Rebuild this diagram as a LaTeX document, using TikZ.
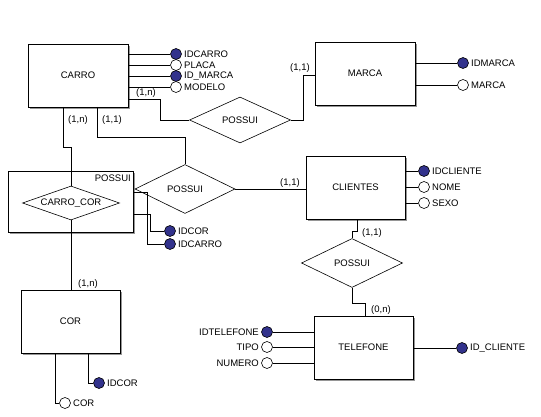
\documentclass[tikz,border=0pt]{standalone}
\usepackage{fontspec}
\setmainfont{Liberation Sans}
\usetikzlibrary{shapes.geometric,shadows}
\definecolor{attrfill}{RGB}{50,50,140}
\definecolor{shadowgray}{RGB}{150,150,150}
\begin{document}
\begin{tikzpicture}[x=1pt,y=-1pt,
  every node/.style={font=\fontsize{9.5}{11}\selectfont},
  line/.style={draw=black,line width=0.8pt},
  entity/.style={rectangle,draw=black,line width=0.8pt,fill=white,inner sep=0pt,
    drop shadow={shadow xshift=2pt,shadow yshift=-2pt,fill=shadowgray,opacity=1}},
  rel/.style={diamond,draw=black,line width=0.6pt,fill=white,inner sep=0pt,aspect=2.1},
  keyattr/.style={circle,draw=black,line width=0.6pt,fill=attrfill,minimum size=11pt,inner sep=0pt},
  attr/.style={circle,draw=black,line width=0.6pt,fill=white,minimum size=11pt,inner sep=0pt},
  atxt/.style={inner sep=0pt,anchor=west},
  ltxt/.style={inner sep=0pt,anchor=east},
  card/.style={inner sep=0pt}
]
\useasboundingbox[fill=white] (0,0) rectangle (541,417);

% ---------- CARRO ----------
\node[entity,minimum width=100pt,minimum height=63pt] (carro) at (78,75.5) {CARRO};
\node[keyattr] (ca1) at (176,54) {};
\node[attr]    (ca2) at (176,65) {};
\node[keyattr] (ca3) at (176,76) {};
\node[attr]    (ca4) at (176,87) {};
\draw[line] (carro.east |- ca1) -- (ca1.west);
\draw[line] (carro.east |- ca2) -- (ca2.west);
\draw[line] (carro.east |- ca3) -- (ca3.west);
\draw[line] (carro.east |- ca4) -- (ca4.west);
\node[atxt] (ca1t) at (184,54) {IDCARRO};
\node[atxt] (ca2t) at (184,65) {PLACA};
\node[atxt] (ca3t) at (184,76) {ID\_MARCA};
\node[atxt] (ca4t) at (184,87) {MODELO};

% ---------- MARCA ----------
\node[entity,minimum width=100pt,minimum height=63pt] (marca) at (365,73.5) {MARCA};
\node[keyattr] (ma1) at (463,63) {};
\node[attr]    (ma2) at (463,85) {};
\draw[line] (marca.east |- ma1) -- (ma1.west);
\draw[line] (marca.east |- ma2) -- (ma2.west);
\node[atxt] (ma1t) at (471,63) {IDMARCA};
\node[atxt] (ma2t) at (471,85) {MARCA};

% ---------- POSSUI (CARRO-MARCA) ----------
\node[rel,minimum width=101pt,minimum height=46pt] (pos1) at (240,120) {POSSUI};
\coordinate (c1a) at (128,99);
\coordinate (c1b) at (160,99);
\coordinate (c1c) at (160,120);
\draw[line] (c1a) -- (c1b) -- (c1c) -- (pos1.west);
\coordinate (m1a) at (303,120);
\coordinate (m1b) at (303,75);
\draw[line] (pos1.east) -- (m1a) -- (m1b) -- (m1b -| marca.west);
\node[card] (k1) at (146,93) {(1,n)};
\node[card] (k2) at (300,68) {(1,1)};

% ---------- Associative box ----------
\node[entity,minimum width=125pt,minimum height=61pt] (assoc) at (70.5,201.5) {};
\node[inner sep=0pt,anchor=east] (assoct) at (131,178) {POSSUI};
\node[rel,aspect=2.85,minimum width=97pt,minimum height=34pt] (cc) at (71,203) {CARRO\_COR};

% CARRO -> CARRO_COR
\coordinate (cc1) at (63,107);
\coordinate (cc2) at (63,147);
\coordinate (cc3) at (71,147);
\draw[line] (cc1) -- (cc2) -- (cc3) -- (cc.north);
\node[card] (k3) at (78,120) {(1,n)};

% ---------- POSSUI (CARRO-CLIENTES) ----------
\node[rel,minimum width=100pt,minimum height=49pt] (pos2) at (185,189) {POSSUI};
\coordinate (p2a) at (97,107);
\coordinate (p2b) at (97,137);
\coordinate (p2c) at (185,137);
\draw[line] (p2a) -- (p2b) -- (p2c) -- (pos2.north);
\node[card] (k4) at (112,120) {(1,1)};

% ---------- CLIENTES ----------
\node[entity,minimum width=99pt,minimum height=63pt] (cli) at (355.5,187.5) {CLIENTES};
\draw[line] (pos2.east) -- (pos2.east -| cli.west);
\node[card] (k5) at (290,183) {(1,1)};
\node[keyattr] (cl1) at (424,171) {};
\node[attr]    (cl2) at (424,187) {};
\node[attr]    (cl3) at (424,203) {};
\draw[line] (cli.east |- cl1) -- (cl1.west);
\draw[line] (cli.east |- cl2) -- (cl2.west);
\draw[line] (cli.east |- cl3) -- (cl3.west);
\node[atxt] (cl1t) at (432,171) {IDCLIENTE};
\node[atxt] (cl2t) at (432,187) {NOME};
\node[atxt] (cl3t) at (432,203) {SEXO};

% associative box attributes
\node[keyattr] (as1) at (170,231) {};
\node[keyattr] (as2) at (170,244) {};
\coordinate (a2a) at (133,192);
\coordinate (a2b) at (147,192);
\coordinate (a2c) at (147,244);
\draw[line] (a2a) -- (a2b) -- (a2c) -- (as2.west);
\coordinate (a1a) at (133,214);
\coordinate (a1b) at (150,214);
\coordinate (a1c) at (150,231);
\draw[line] (a1a) -- (a1b) -- (a1c) -- (as1.west);
\node[atxt] (as1t) at (178,231) {IDCOR};
\node[atxt] (as2t) at (178,244) {IDCARRO};

% ---------- COR ----------
\node[entity,minimum width=99pt,minimum height=63pt] (cor) at (70.5,321.5) {COR};
\draw[line] (cc.south) -- (cc.south |- cor.north);
\node[card] (k6) at (88,284) {(1,n)};
\node[attr]    (co1) at (65,403) {};
\node[keyattr] (co2) at (99,383) {};
\coordinate (o1a) at (55,353);
\coordinate (o1b) at (55,403);
\draw[line] (o1a) -- (o1b) -- (co1.west);
\coordinate (o2a) at (88,353);
\coordinate (o2b) at (88,383);
\draw[line] (o2a) -- (o2b) -- (co2.west);
\node[atxt] (co1t) at (73,403) {COR};
\node[atxt] (co2t) at (107,383) {IDCOR};

% ---------- POSSUI (CLIENTES-TELEFONE) ----------
\node[rel,minimum width=101pt,minimum height=49pt] (pos3) at (352,263) {POSSUI};
\coordinate (p3a) at (357,219);
\coordinate (p3b) at (357,231);
\coordinate (p3c) at (352,231);
\draw[line] (p3a) -- (p3b) -- (p3c) -- (pos3.north);
\node[card] (k7) at (372,233) {(1,1)};

% ---------- TELEFONE ----------
\node[entity,minimum width=99pt,minimum height=63pt] (tel) at (363.5,347.5) {TELEFONE};
\coordinate (t1a) at (352,303);
\coordinate (t1b) at (365,303);
\draw[line] (pos3.south) -- (t1a) -- (t1b) -- (t1b |- tel.north);
\node[card] (k8) at (381,310) {(0,n)};
\node[keyattr] (te1) at (267,332) {};
\node[attr]    (te2) at (267,347) {};
\node[attr]    (te3) at (267,363) {};
\draw[line] (te1.east) -- (te1 -| tel.west);
\draw[line] (te2.east) -- (te2 -| tel.west);
\draw[line] (te3.east) -- (te3 -| tel.west);
\node[ltxt] (te1t) at (259,332) {IDTELEFONE};
\node[ltxt] (te2t) at (259,347) {TIPO};
\node[ltxt] (te3t) at (259,363) {NUMERO};
\node[keyattr] (te4) at (462,348) {};
\draw[line] (tel.east |- te4) -- (te4.west);
\node[atxt] (te4t) at (470,348) {ID\_CLIENTE};
\end{tikzpicture}
\end{document}
